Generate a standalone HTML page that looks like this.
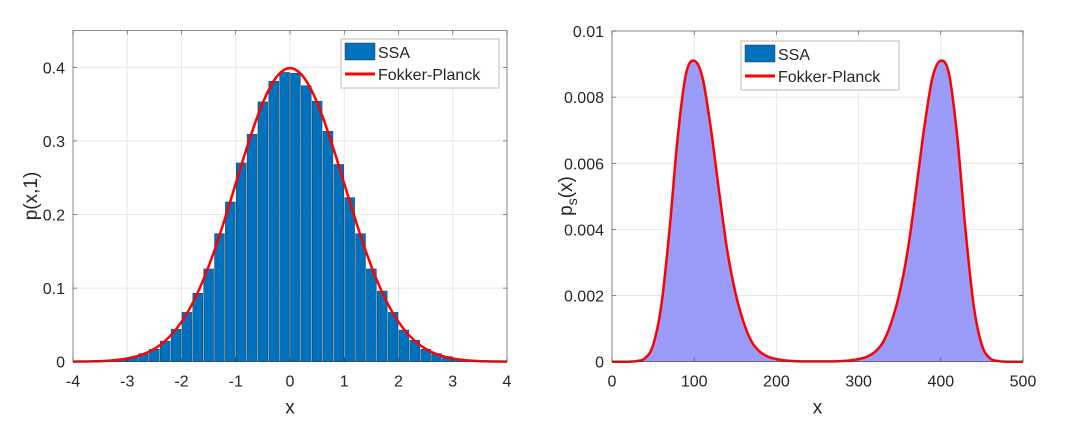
<!DOCTYPE html>
<html><head><meta charset="utf-8"><style>
body{margin:0;background:#fff;}
svg text{font-family:"Liberation Sans",sans-serif;fill:#262626;}
</style></head><body>
<svg id="c" width="1076" height="420" xmlns="http://www.w3.org/2000/svg"></svg>
<script>
// Left chart data
const leftBinCenters=[-3.3,-3.1,-2.9,-2.7,-2.5,-2.3,-2.1,-1.9,-1.7,-1.5,-1.3,-1.1,-0.9,-0.7,-0.5,-0.3,-0.1,0.1,0.3,0.5,0.7,0.9,1.1,1.3,1.5,1.7,1.9,2.1,2.3,2.5,2.7,2.9,3.1,3.3];
const leftBinValues=[0.002,0.004,0.006,0.011,0.017,0.028,0.044,0.067,0.093,0.126,0.174,0.217,0.270,0.309,0.353,0.381,0.393,0.392,0.375,0.354,0.313,0.268,0.223,0.174,0.126,0.096,0.067,0.043,0.029,0.017,0.011,0.007,0.004,0.002];
const leftCurveX=[-4,-3.8,-3.6,-3.4,-3.2,-3,-2.8,-2.6,-2.4,-2.2,-2,-1.8,-1.6,-1.4,-1.2,-1,-0.8,-0.6,-0.4,-0.2,0,0.2,0.4,0.6,0.8,1,1.2,1.4,1.6,1.8,2,2.2,2.4,2.6,2.8,3,3.2,3.4,3.6,3.8,4];
const leftCurveY=[0.0001,0.0003,0.0006,0.0012,0.0024,0.0044,0.0079,0.0136,0.0224,0.0355,0.054,0.079,0.1109,0.1497,0.1942,0.242,0.2897,0.3332,0.3683,0.391,0.3989,0.391,0.3683,0.3332,0.2897,0.242,0.1942,0.1497,0.1109,0.079,0.054,0.0355,0.0224,0.0136,0.0079,0.0044,0.0024,0.0012,0.0006,0.0003,0.0001];
const leftXTicks=[-4,-3,-2,-1,0,1,2,3,4];
const leftYTicks=[0,0.1,0.2,0.3,0.4];
const leftYTickLabels=["0","0.1","0.2","0.3","0.4"];
// Right chart data
const rightX=[0,10,20,30,40,50,60,70,80,90,100,110,120,130,140,150,160,170,180,190,200,210,220,230,240,250,260,270,280,290,300,310,320,330,340,350,360,370,380,390,400,410,420,430,440,450,460,470,480,490,500];
const rightY=[0,0,0,0.00002,0.0001,0.0005,0.0017,0.004,0.0068,0.0087,0.0091,0.0086,0.0071,0.0052,0.0034,0.0021,0.0012,0.0006,0.0003,0.00015,0.00008,0.00004,0.00002,0.00001,0.00001,0.00001,0.00001,0.00001,0.00002,0.00004,0.00008,0.00015,0.0003,0.0006,0.0012,0.0021,0.0034,0.0052,0.0071,0.0086,0.0091,0.0087,0.0068,0.004,0.0017,0.0005,0.0001,0.00002,0,0,0];
const rightXTicks=[0,100,200,300,400,500];
const rightYTicks=[0,0.002,0.004,0.006,0.008,0.01];
const rightYTickLabels=["0","0.002","0.004","0.006","0.008","0.01"];

const svg=document.getElementById('c');
const NS="http://www.w3.org/2000/svg";
function mk(tag,attrs,parent){const e=document.createElementNS(NS,tag);for(const k in attrs)e.setAttribute(k,attrs[k]);(parent||svg).appendChild(e);return e;}
function smooth(pts){let d="M"+pts[0][0]+","+pts[0][1];for(let i=0;i<pts.length-1;i++){const p0=pts[i-1]||pts[i],p1=pts[i],p2=pts[i+1],p3=pts[i+2]||p2;
d+=" C"+(p1[0]+(p2[0]-p0[0])/6)+","+(p1[1]+(p2[1]-p0[1])/6)+" "+(p2[0]-(p3[0]-p1[0])/6)+","+(p2[1]-(p3[1]-p1[1])/6)+" "+p2[0]+","+p2[1];}return d;}

function axes(cfg){
  const g=mk('g',{});
  
  
  const sx=v=>cfg.x0+(v-cfg.xmin)/(cfg.xmax-cfg.xmin)*(cfg.x1-cfg.x0);
  const sy=v=>cfg.y0-(v-cfg.ymin)/(cfg.ymax-cfg.ymin)*(cfg.y0-cfg.y1);
  cfg.xt.forEach(t=>{const l=mk('line',{x1:sx(t),x2:sx(t),y1:cfg.y1,y2:cfg.y0,stroke:'#e8e8e8'},g);});
  cfg.yt.forEach(t=>{const l=mk('line',{x1:cfg.x0,x2:cfg.x1,y1:sy(t),y2:sy(t),stroke:'#e8e8e8'},g);});
  return {g,sx,sy};
}
function frame(cfg,A){
  const g=A.g;
  const r=mk('rect',{x:cfg.x0,y:cfg.y1,width:cfg.x1-cfg.x0,height:cfg.y0-cfg.y1,fill:'none',stroke:'#444','stroke-width':0.6},g);
  
  cfg.xt.forEach(t=>{const x=A.sx(t);
    mk('line',{x1:x,x2:x,y1:cfg.y0,y2:cfg.y0-4,stroke:'#444','stroke-width':0.6},g);
    mk('line',{x1:x,x2:x,y1:cfg.y1,y2:cfg.y1+4,stroke:'#444','stroke-width':0.6},g);
    const tx=mk('text',{x:x,y:cfg.y0+25,'font-size':16,'text-anchor':'middle'},g);tx.textContent=String(t);
    });
  cfg.yt.forEach((t,i)=>{const y=A.sy(t);
    mk('line',{x1:cfg.x0,x2:cfg.x0+4,y1:y,y2:y,stroke:'#444','stroke-width':0.6},g);
    mk('line',{x1:cfg.x1,x2:cfg.x1-4,y1:y,y2:y,stroke:'#444','stroke-width':0.6},g);
    const tx=mk('text',{x:cfg.x0-8,y:y+6,'font-size':16,'text-anchor':'end'},g);tx.textContent=cfg.ytl[i];
    });
  const xl=mk('text',{x:(cfg.x0+cfg.x1)/2,y:cfg.y0+52,'font-size':19,'text-anchor':'middle'},g);xl.textContent='x';
  
}
function legend(x,y,sw,g){
  const lg=mk('g',{},g);
  
  mk('rect',{x:x,y:y,width:158,height:49,fill:'#fff',stroke:'#bbb','stroke-width':1},lg);
  const e1=mk('g',{},lg);
  mk('rect',{x:x+4,y:y+4,width:30,height:17,fill:sw,stroke:'#333','stroke-width':0.5},e1);
  const t1=mk('text',{x:x+37,y:y+19,'font-size':16,fill:'#000'},e1);t1.textContent='SSA';
  const e2=mk('g',{},lg);
  mk('line',{x1:x+4,x2:x+34,y1:y+35,y2:y+35,stroke:'#f00','stroke-width':3},e2);
  const t2=mk('text',{x:x+37,y:y+41,'font-size':16,fill:'#000'},e2);t2.textContent='Fokker-Planck';
}

// LEFT
const L={name:'left-chart',x0:73,x1:507,y0:361.7,y1:30.5,xmin:-4,xmax:4,ymin:0,ymax:0.45,xt:leftXTicks,yt:leftYTicks,ytl:leftYTickLabels};
const A=axes(L);
const bw=A.sx(0.2)-A.sx(0);
leftBinCenters.forEach((c,i)=>{const b=mk('rect',{x:A.sx(c-0.1)+0.5,y:A.sy(leftBinValues[i]),width:bw-1,height:A.sy(0)-A.sy(leftBinValues[i]),fill:'#0072bd',stroke:'#1a3a55','stroke-width':0.5},A.g);
  });
const lc=mk('path',{d:smooth(leftCurveX.map((x,i)=>[A.sx(x),A.sy(leftCurveY[i])])),fill:'none',stroke:'#f00','stroke-width':2.5},A.g);

frame(L,A);
legend(341,39,'#0072bd',A.g);
const yl=mk('text',{x:0,y:0,'font-size':19,'text-anchor':'middle',transform:'translate(37,196) rotate(-90)'},A.g);yl.textContent='p(x,1)';


// RIGHT
const R={name:'right-chart',x0:612,x1:1023,y0:361.7,y1:31,xmin:0,xmax:500,ymin:0,ymax:0.01,xt:rightXTicks,yt:rightYTicks,ytl:rightYTickLabels};
const B=axes(R);
const pts=rightX.map((x,i)=>[B.sx(x),B.sy(rightY[i])]);
const area=mk('path',{d:smooth(pts)+" L"+B.sx(500)+","+B.sy(0)+" L"+B.sx(0)+","+B.sy(0)+"Z",fill:'#9b9bfa',stroke:'none'},B.g);

const rc=mk('path',{d:smooth(pts),fill:'none',stroke:'#f00','stroke-width':2.5},B.g);

frame(R,B);
legend(741,41,'#0072bd',B.g);
const yl2=mk('text',{x:0,y:0,'font-size':19,'text-anchor':'middle',transform:'translate(572,196) rotate(-90)'},B.g);

yl2.innerHTML='p<tspan font-size="14" dy="5">s</tspan><tspan dy="-5">(x)</tspan>';
</script>
</body></html>
